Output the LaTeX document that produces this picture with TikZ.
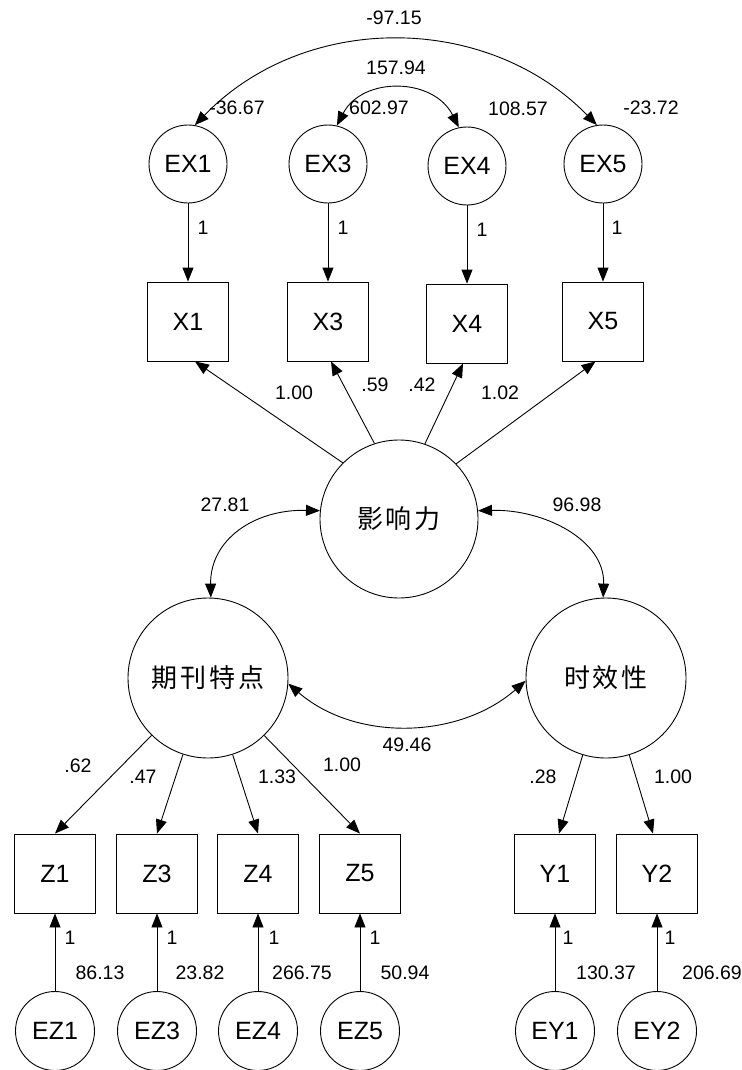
\documentclass[tikz,border=0pt]{standalone}
\usepackage{fontspec}
\setmainfont{Liberation Sans}
\newfontfamily\cjk{Noto Sans CJK SC}
\usetikzlibrary{arrows.meta}
\begin{document}
\begin{tikzpicture}[x=1pt,y=-1pt,
  line width=0.9pt,
  arr/.style={-{Triangle[length=14pt,width=11pt]}},
  dbl/.style={{Triangle[length=14pt,width=11pt]}-{Triangle[length=14pt,width=11pt]}},
  err/.style={circle,draw,minimum size=78pt,inner sep=0pt,font=\fontsize{25}{28}\selectfont},
  obs/.style={rectangle,draw,minimum width=81pt,minimum height=79pt,inner sep=0pt,font=\fontsize{25}{28}\selectfont},
  lat/.style={circle,draw,minimum size=160pt,inner sep=0pt,font=\cjk\fontsize{26}{30}\selectfont},
  lbl/.style={inner sep=0pt,font=\fontsize{19.5}{22}\selectfont}]
\useasboundingbox (0,0) rectangle (741,1070);
% error terms top
\node[err] (EX1) at (188,164) {EX1};
\node[err] (EX3) at (328,164) {EX3};
\node[err] (EX4) at (467,166) {EX4};
\node[err] (EX5) at (603,164) {EX5};
% observed X
\node[obs] (X1) at (188,321.5) {X1};
\node[obs] (X3) at (328,321.5) {X3};
\node[obs] (X4) at (467,323.5) {X4};
\node[obs] (X5) at (603,321.5) {X5};
% latent
\node[lat,minimum size=158pt] (yx) at (399,519) {影\kern3pt响\kern3pt力};
\node[lat] (qk) at (208,678) {期\kern3pt刊\kern3pt特\kern3pt点};
\node[lat] (sx) at (606,678) {时\kern3pt效\kern3pt性};
% observed Z, Y
\node[obs] (Z1) at (55,873.5) {Z1};
\node[obs] (Z3) at (157,873.5) {Z3};
\node[obs] (Z4) at (258,873.5) {Z4};
\node[obs] (Z5) at (360,873.5) {Z5};
\node[obs] (Y1) at (555,873.5) {Y1};
\node[obs] (Y2) at (657,873.5) {Y2};
% error terms bottom
\node[err,minimum size=79pt] (EZ1) at (55,1031) {EZ1};
\node[err,minimum size=79pt] (EZ3) at (157,1031) {EZ3};
\node[err,minimum size=79pt] (EZ4) at (258,1031) {EZ4};
\node[err,minimum size=79pt] (EZ5) at (360,1031) {EZ5};
\node[err,minimum size=79pt] (EY1) at (555,1031) {EY1};
\node[err,minimum size=79pt] (EY2) at (657,1031) {EY2};
% covariances top
\draw[dbl] (EX1.80) .. controls (305,11.5) and (487,12.5) .. (EX5.99);
\draw[dbl] (EX3.77) .. controls (362.4,76.2) and (433.6,77.2) .. (EX4.102);
% error paths X
\draw[arr] (EX1) -- (X1);
\draw[arr] (EX3) -- (X3);
\draw[arr] (EX4) -- (X4);
\draw[arr] (EX5) -- (X5);
% loadings yx
\draw[arr] (yx.135) -- ([xshift=7pt]X1.south);
\draw[arr] (yx.108) -- ([xshift=3pt]X3.south);
\draw[arr] (yx.71) -- ([xshift=-4pt]X4.south);
\draw[arr] (yx.44) -- ([xshift=-7.5pt]X5.south);
% latent covariances
\draw[dbl] (yx.174) .. controls (254,509) and (210,540) .. (qk.88);
\draw[dbl] (yx.6) .. controls (544,509) and (605,540) .. (sx.92);
\draw[dbl] (qk.-4) .. controls (356,742) and (459,739) .. (sx.182);
% loadings qk, sx
\draw[arr] (qk) -- (Z1.north);
\draw[arr] (qk) -- (Z3.north);
\draw[arr] (qk) -- (Z4.north);
\draw[arr] (qk) -- (Z5.north);
\draw[arr] (sx) -- ([xshift=4pt]Y1.north);
\draw[arr] (sx) -- ([xshift=-4pt]Y2.north);
% error paths bottom
\draw[arr] (EZ1) -- (Z1);
\draw[arr] (EZ3) -- (Z3);
\draw[arr] (EZ4) -- (Z4);
\draw[arr] (EZ5) -- (Z5);
\draw[arr] (EY1) -- (Y1);
\draw[arr] (EY2) -- (Y2);
% labels top
\node[lbl] (l1) at (394,18) {-97.15};
\node[lbl] (l2) at (396,68) {157.94};
\node[lbl] (l3) at (237,108) {-36.67};
\node[lbl] (l4) at (379,108) {602.97};
\node[lbl] (l5) at (518,109) {108.57};
\node[lbl] (l6) at (651,108) {-23.72};
\node[lbl] (l7) at (203,228) {1};
\node[lbl] (l8) at (343,228) {1};
\node[lbl] (l9) at (482,230) {1};
\node[lbl] (l10) at (617,228) {1};
\node[lbl] (l11) at (294,393) {1.00};
\node[lbl] (l12) at (375,385) {.59};
\node[lbl] (l13) at (422,385) {.42};
\node[lbl] (l14) at (500,393) {1.02};
% labels middle
\node[lbl] (l15) at (225,505) {27.81};
\node[lbl] (l16) at (577,505) {96.98};
\node[lbl] (l17) at (407,745) {49.46};
\node[lbl] (l18) at (78,766) {.62};
\node[lbl] (l19) at (143,777) {.47};
\node[lbl] (l20) at (277,777) {1.33};
\node[lbl] (l21) at (342,765) {1.00};
\node[lbl] (l22) at (543,777) {.28};
\node[lbl] (l23) at (673,777) {1.00};
% labels bottom
\node[lbl] (l24) at (70,938) {1};
\node[lbl] (l25) at (172,938) {1};
\node[lbl] (l26) at (274,938) {1};
\node[lbl] (l27) at (375,938) {1};
\node[lbl] (l28) at (568,938) {1};
\node[lbl] (l29) at (670,938) {1};
\node[lbl] (l30) at (100,973) {86.13};
\node[lbl] (l31) at (200,973) {23.82};
\node[lbl] (l32) at (302,973) {266.75};
\node[lbl] (l33) at (405,973) {50.94};
\node[lbl] (l34) at (606,973) {130.37};
\node[lbl] (l35) at (712,973) {206.69};
\end{tikzpicture}
\end{document}
